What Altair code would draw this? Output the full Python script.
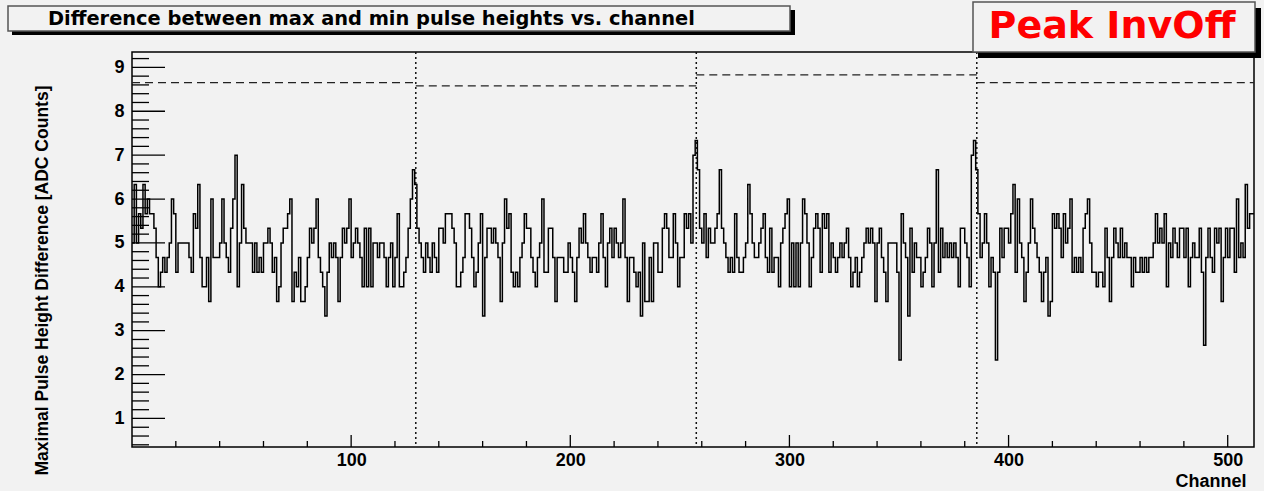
import altair as alt
import pandas as pd

# Pulse-height difference per channel, in units of 1/3 ADC count,
# one list per block of 128 channels.
block_a = [
    15, 19, 15, 17, 16, 19, 17, 18, 17, 17, 16, 14, 12, 13, 14, 13,
    14, 15, 18, 17, 13, 15, 15, 15, 15, 15, 14, 13, 17, 16, 19, 14,
    12, 12, 14, 11, 18, 14, 14, 14, 15, 18, 15, 14, 13, 16, 18, 21,
    12, 15, 19, 16, 15, 15, 15, 13, 15, 13, 14, 13, 15, 15, 16, 15,
    13, 14, 11, 12, 15, 16, 16, 17, 18, 11, 13, 12, 14, 11, 11, 12,
    14, 16, 15, 16, 18, 14, 13, 12, 10, 13, 15, 14, 15, 14, 11, 14,
    16, 15, 16, 18, 14, 15, 16, 15, 14, 12, 16, 12, 16, 12, 15, 15,
    14, 15, 15, 14, 12, 14, 15, 12, 14, 17, 12, 12, 13, 14, 16, 18,
]
block_b = [
    20, 19, 16, 15, 14, 13, 15, 14, 13, 15, 14, 13, 16, 16, 15, 17,
    17, 17, 16, 15, 12, 12, 13, 14, 17, 17, 16, 14, 12, 13, 15, 17,
    10, 14, 16, 16, 15, 16, 15, 14, 11, 15, 18, 16, 17, 13, 12, 13,
    12, 14, 15, 17, 16, 16, 14, 13, 12, 14, 15, 18, 13, 13, 16, 16,
    14, 11, 14, 14, 14, 13, 13, 15, 14, 13, 11, 14, 16, 15, 17, 15,
    14, 13, 14, 14, 13, 15, 17, 14, 12, 15, 16, 14, 16, 15, 14, 15,
    18, 14, 11, 14, 14, 13, 12, 13, 10, 15, 11, 11, 14, 11, 15, 15,
    13, 13, 16, 17, 16, 14, 14, 17, 15, 12, 14, 14, 17, 16, 17, 15,
]
block_c = [
    21, 22, 20, 16, 15, 17, 14, 16, 15, 15, 16, 17, 20, 16, 15, 14,
    13, 14, 13, 17, 14, 13, 13, 14, 15, 19, 17, 15, 14, 14, 15, 16,
    17, 14, 13, 16, 13, 14, 14, 12, 15, 16, 17, 18, 12, 15, 12, 15,
    12, 15, 18, 17, 15, 12, 14, 16, 17, 16, 13, 17, 16, 17, 13, 15,
    14, 13, 14, 15, 14, 15, 16, 14, 12, 13, 14, 12, 13, 14, 15, 16,
    15, 16, 15, 11, 15, 16, 14, 13, 11, 15, 15, 15, 15, 13, 7, 17,
    15, 14, 10, 16, 13, 15, 14, 14, 12, 13, 14, 16, 15, 12, 15, 20,
    13, 16, 14, 15, 14, 15, 14, 15, 14, 12, 16, 16, 15, 14, 12, 21,
]
block_d = [
    22, 20, 17, 14, 15, 17, 15, 12, 14, 13, 7, 13, 16, 14, 16, 16,
    15, 17, 19, 13, 18, 15, 14, 11, 13, 15, 18, 16, 15, 14, 13, 11,
    13, 14, 10, 11, 17, 16, 17, 16, 14, 17, 15, 16, 18, 13, 14, 13,
    14, 13, 16, 17, 18, 15, 13, 13, 12, 13, 13, 12, 16, 14, 11, 14,
    16, 15, 14, 16, 14, 15, 14, 14, 12, 14, 13, 13, 14, 13, 14, 13,
    14, 14, 15, 17, 15, 16, 15, 17, 12, 15, 14, 16, 15, 14, 16, 16,
    14, 16, 12, 14, 15, 14, 14, 16, 13, 8, 14, 16, 14, 13, 16, 15,
    16, 11, 14, 16, 14, 16, 16, 13, 18, 14, 15, 14, 19, 16, 17, 17,
]

# Per-block threshold levels (dashed) and block boundaries (dotted)
block_starts = [0, 129.5, 257.5, 385.5]
block_ends = [129.5, 257.5, 385.5, 512]
thresholds = [8.65, 8.58, 8.83, 8.65]
boundaries = [129.5, 257.5, 385.5]

y_major = [1, 2, 3, 4, 5, 6, 7, 8, 9]
x_major = [100, 200, 300, 400, 500]

BG = "#f2f2f2"
W, H = 1122, 395
FONT = "Liberation Sans"

thirds = block_a + block_b + block_c + block_d
hist = pd.DataFrame({
    "channel": list(range(len(thirds))) + [len(thirds)],
    "diff": [t / 3 for t in thirds] + [thirds[-1] / 3],
})

xs = alt.Scale(domain=[0, 512], nice=False, zero=False)
ys = alt.Scale(domain=[0.35, 9.35], nice=False, zero=False)

# One axis definition per channel, shared by every layer
x_axis = alt.Axis(
    values=x_major, ticks=False, domain=False, grid=False,
    labelFont=FONT, labelFontWeight="bold", labelFontSize=18,
    labelColor="#000", labelPadding=4,
    title="Channel", titleFont=FONT, titleFontWeight="bold",
    titleFontSize=18, titleColor="#000", titleAnchor="end",
    titleAlign="right", titleBaseline="top", titleX=W - 8, titleY=25,
)
y_axis = alt.Axis(
    values=y_major, ticks=False, domain=False, grid=False,
    labelFont=FONT, labelFontWeight="bold", labelFontSize=18,
    labelColor="#000", labelPadding=8,
    title="Maximal Pulse Height Difference [ADC Counts]",
    titleFont=FONT, titleFontWeight="bold", titleFontSize=17.5,
    titleColor="#000", titleAngle=270, titleAlign="center",
    titleBaseline="middle", titleX=-90, titleY=228,
)

line = alt.Chart(hist).mark_line(
    interpolate="step-after", color="#000", strokeWidth=1.5
).encode(
    x=alt.X("channel:Q", scale=xs, axis=x_axis),
    y=alt.Y("diff:Q", scale=ys, axis=y_axis),
)

# Inward tick marks on the left and bottom edges
y_minor = [round(0.4 + 0.2 * i, 1) for i in range(45)]
y_minor = [v for v in y_minor if abs(v - round(v)) > 1e-6]
x_minor = [v for v in range(20, 512, 20) if v % 100]

ytick_major = alt.Chart(pd.DataFrame({"v": y_major})).mark_rule(
    color="#000", strokeWidth=1.3
).encode(y=alt.Y("v:Q", scale=ys, axis=y_axis), x=alt.value(0), x2=alt.value(33))
ytick_minor = alt.Chart(pd.DataFrame({"v": y_minor})).mark_rule(
    color="#000", strokeWidth=1.3
).encode(y=alt.Y("v:Q", scale=ys, axis=y_axis), x=alt.value(0), x2=alt.value(17))
xtick_major = alt.Chart(pd.DataFrame({"c": x_major})).mark_rule(
    color="#000", strokeWidth=1.3
).encode(x=alt.X("c:Q", scale=xs, axis=x_axis), y=alt.value(H), y2=alt.value(H - 12))
xtick_minor = alt.Chart(pd.DataFrame({"c": x_minor})).mark_rule(
    color="#000", strokeWidth=1.3
).encode(x=alt.X("c:Q", scale=xs, axis=x_axis), y=alt.value(H), y2=alt.value(H - 6))

dashed = alt.Chart(pd.DataFrame({
    "x0": block_starts, "x1": block_ends, "thr": thresholds,
})).mark_rule(color="#222", strokeWidth=1.2, strokeDash=[8, 5]).encode(
    x=alt.X("x0:Q", scale=xs, axis=x_axis), x2="x1:Q",
    y=alt.Y("thr:Q", scale=ys, axis=y_axis),
)

dotted = alt.Chart(pd.DataFrame({"b": boundaries})).mark_rule(
    color="#111", strokeWidth=1.5, strokeDash=[2, 3]
).encode(x=alt.X("b:Q", scale=xs, axis=x_axis), y=alt.value(0), y2=alt.value(H))

# Title pave with drop shadow
one = pd.DataFrame({"t": ["Difference between max and min pulse heights vs. channel"]})
title_shadow = alt.Chart(one).mark_rect(color="#000").encode(
    x=alt.value(-120), x2=alt.value(663), y=alt.value(-42), y2=alt.value(-17))
title_box = alt.Chart(one).mark_rect(fill=BG, stroke="#555", strokeWidth=1.5).encode(
    x=alt.value(-124), x2=alt.value(658), y=alt.value(-46), y2=alt.value(-21))
title_text = alt.Chart(one).mark_text(
    align="left", baseline="middle", font="DejaVu Sans", fontWeight="bold",
    fontSize=19.4, color="#000",
).encode(x=alt.value(-84), y=alt.value(-33), text="t:N")

# Label pave in the top-right corner
lab = pd.DataFrame({"t": ["Peak InvOff"]})
lab_shadow = alt.Chart(lab).mark_rect(color="#000").encode(
    x=alt.value(846), x2=alt.value(1129), y=alt.value(-44), y2=alt.value(6))
lab_box = alt.Chart(lab).mark_rect(fill=BG, stroke="#555", strokeWidth=1.5).encode(
    x=alt.value(841), x2=alt.value(1123), y=alt.value(-50), y2=alt.value(0))
lab_text = alt.Chart(lab).mark_text(
    align="center", baseline="middle", font="DejaVu Sans", fontWeight="bold",
    fontSize=38, color="#ff0000",
).encode(x=alt.value(980), y=alt.value(-25), text="t:N")

chart = alt.layer(
    line, dashed, dotted, ytick_major, ytick_minor, xtick_major, xtick_minor,
    title_shadow, title_box, title_text, lab_shadow, lab_box, lab_text,
).properties(
    width=W, height=H, background=BG,
    padding={"left": 132, "top": 52, "right": 10, "bottom": 44},
    autosize=alt.AutoSizeParams(type="none"),
).configure_view(stroke="#000", strokeWidth=1.5, fill=BG)

chart.save("out.html", embed_options={"renderer": "svg", "actions": False})
